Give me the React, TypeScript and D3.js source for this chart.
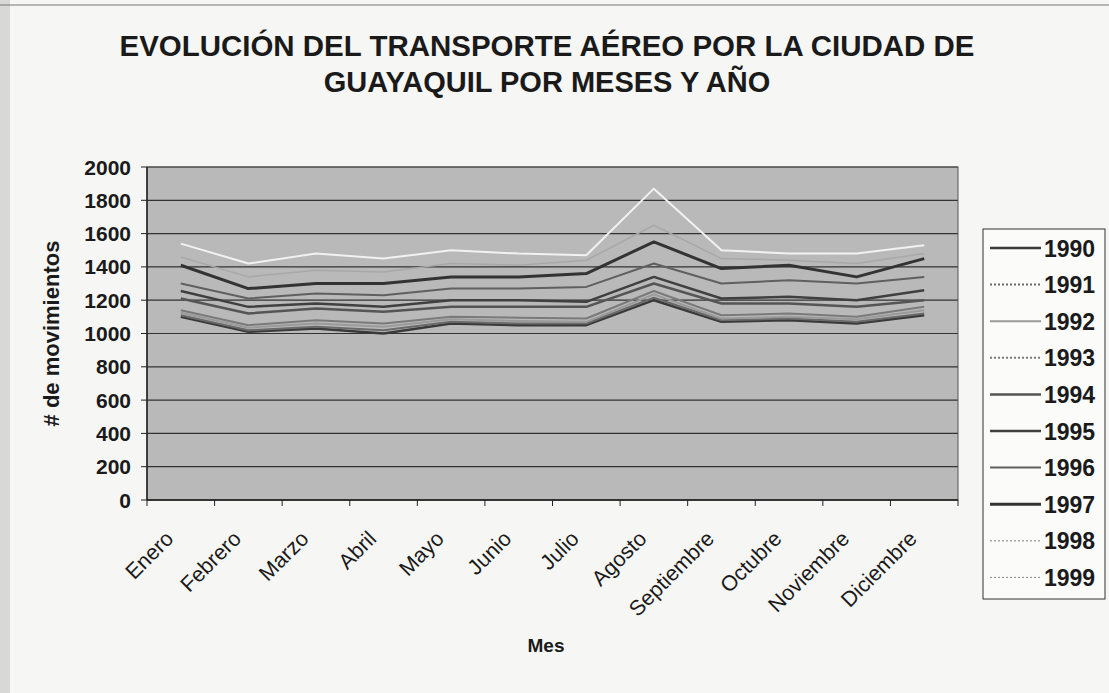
import React from "react";
import * as d3 from "d3";

const months = ["Enero","Febrero","Marzo","Abril","Mayo","Junio","Julio","Agosto","Septiembre","Octubre","Noviembre","Diciembre"];
const years = ["1990","1991","1992","1993","1994","1995","1996","1997","1998","1999"];
const yTicks = [0,200,400,600,800,1000,1200,1400,1600,1800,2000];

const s1990 = [1100,1010,1030,1000,1060,1050,1050,1200,1070,1080,1060,1110];
const s1991 = [1110,1020,1040,1020,1070,1060,1060,1215,1080,1090,1070,1120];
const s1992 = [1125,1035,1060,1040,1085,1075,1070,1235,1090,1100,1085,1140];
const s1993 = [1140,1050,1080,1060,1100,1095,1090,1255,1110,1120,1100,1160];
const s1994 = [1210,1120,1150,1130,1160,1160,1160,1300,1180,1180,1160,1200];
const s1995 = [1255,1160,1180,1160,1200,1200,1190,1340,1210,1220,1200,1260];
const s1996 = [1300,1210,1240,1230,1270,1270,1280,1420,1300,1320,1300,1340];
const s1997 = [1410,1270,1300,1300,1340,1340,1360,1550,1390,1410,1340,1450];
const s1998 = [1460,1340,1380,1370,1420,1410,1440,1650,1450,1440,1420,1480];
const s1999 = [1540,1420,1480,1450,1500,1480,1470,1870,1500,1480,1480,1530];
const seriesValues = [s1990,s1991,s1992,s1993,s1994,s1995,s1996,s1997,s1998,s1999];

const colors = ["#3a3a3a","#6a6a6a","#9a9a9a","#7a7a7a","#555555","#404040","#606060","#333333","#a8a8a8","#f2f2f2"];
const widths = [2.5,2,2,2,2.5,2.5,2,3,1.5,2];

export default function App() {
  const W = 1109, H = 693;
  const left = 147, right = 958, top = 167, bottom = 500;
  const x = d3.scaleBand<string>().domain(months).range([left, right]);
  const y = d3.scaleLinear().domain([0, 2000]).range([bottom, top]);
  const line = d3.line<number>()
    .x((_, i) => (x(months[i]) as number) + x.bandwidth() / 2)
    .y((v) => y(v));
  const font = "'Liberation Sans', Arial, sans-serif";
  const legTop = 248, legStep = 36.6;
  return (
    <svg width={W} height={H} style={{ position: "absolute", left: 0, top: 0, background: "#f6f6f4" }} fontFamily={font}>
      <rect x={0} y={0} width={W} height={H} fill="#f6f6f4" />
      <rect x={0} y={0} width={10} height={H} fill="#d8d8d6" />
      <line x1={0} x2={W} y1={5} y2={5} stroke="#777" strokeWidth={1} />
      <text x={547} y={56} textAnchor="middle" fontSize={29} fontWeight="bold" fill="#1a1a1a" textLength={855} lengthAdjust="spacingAndGlyphs">EVOLUCIÓN DEL TRANSPORTE AÉREO POR LA CIUDAD DE</text>
      <text x={547} y={92} textAnchor="middle" fontSize={29} fontWeight="bold" fill="#1a1a1a">GUAYAQUIL POR MESES Y AÑO</text>

      <rect x={left} y={top} width={right - left} height={bottom - top} fill="#b9b9b9" />
      {yTicks.map((t) => (
        <g key={t}>
          <line x1={left} x2={right} y1={y(t)} y2={y(t)} stroke="#333" strokeWidth={1.2} />
          <line x1={left - 6} x2={left} y1={y(t)} y2={y(t)} stroke="#222" strokeWidth={1} />
          <text x={131} y={y(t) + 7.5} textAnchor="end" fontSize={21} fontWeight="bold" fill="#1a1a1a">{t}</text>
        </g>
      ))}
      <rect x={left} y={top} width={right - left} height={bottom - top} fill="none" stroke="#555" strokeWidth={1} />
      <line x1={left} x2={left} y1={top} y2={bottom} stroke="#222" strokeWidth={1.5} />
      <line x1={left} x2={right} y1={bottom} y2={bottom} stroke="#222" strokeWidth={1.5} />
      {months.map((m) => (
        <line key={"t" + m} x1={x(m) as number} x2={x(m) as number} y1={bottom} y2={bottom + 6} stroke="#222" />
      ))}
      <line x1={right} x2={right} y1={bottom} y2={bottom + 6} stroke="#222" />

      {seriesValues.map((vals, i) => (
        <path key={years[i]} d={line(vals) || ""} fill="none" stroke={colors[i]} strokeWidth={widths[i]} strokeLinejoin="round" />
      ))}

      {months.map((m) => {
        const cx = (x(m) as number) + x.bandwidth() / 2;
        return (
          <text key={m} transform={`translate(${cx - 6},${bottom + 40}) rotate(-45)`} textAnchor="end" fontSize={21.5} fill="#1a1a1a">{m}</text>
        );
      })}

      <text x={546} y={652} textAnchor="middle" fontSize={19} fontWeight="bold" fill="#1a1a1a">Mes</text>
      <text transform={`translate(59,${(top + bottom) / 2}) rotate(-90)`} textAnchor="middle" fontSize={22} fontWeight="bold" fill="#1a1a1a"># de movimientos</text>

      <rect x={983} y={229} width={122} height={370} fill="#fbfbfa" stroke="#333" strokeWidth={1} />
      {years.map((yr, i) => {
        const yy = legTop + i * legStep;
        const lc = i === 9 ? "#888" : colors[i];
        return (
          <g key={"l" + yr}>
            <line x1={990} x2={1041} y1={yy} y2={yy} stroke={lc} strokeWidth={i === 9 ? 1 : widths[i]} strokeDasharray={i === 9 || i === 8 || i === 3 || i === 1 ? "2,2" : undefined} />
            <text x={1044} y={yy + 8.5} fontSize={23} fontWeight="bold" fill="#1a1a1a">{yr}</text>
          </g>
        );
      })}
    </svg>
  );
}
